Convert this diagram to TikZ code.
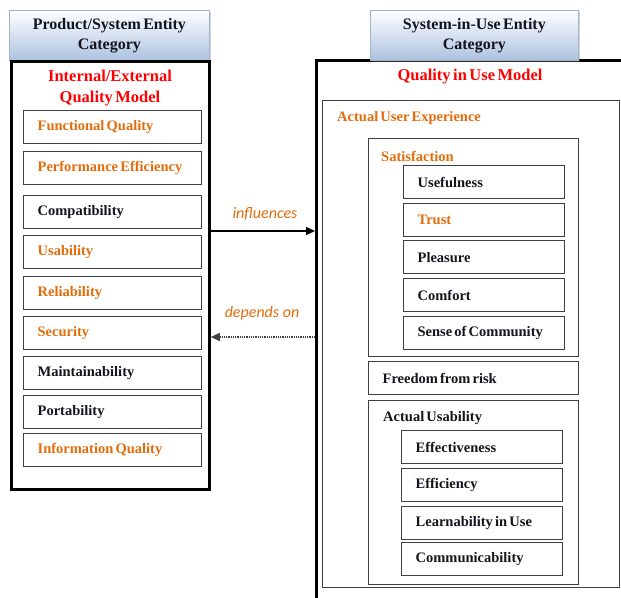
\documentclass[tikz,border=0pt]{standalone}
\usepackage{fontspec}
\setmainfont[WordSpace=0.6]{Liberation Serif}
\newfontfamily\calfont{Carlito}
\usetikzlibrary{arrows.meta,shadows}
\definecolor{qorange}{RGB}{228,108,10}
\definecolor{qred}{RGB}{255,0,0}
\definecolor{hdblue}{RGB}{172,194,224}
\definecolor{boxgray}{RGB}{64,64,64}
\definecolor{ink}{RGB}{20,20,30}
\tikzset{
  frame/.style={draw=black, line width=2.8pt, anchor=north west, inner sep=0pt},
  hdr/.style={draw=hdblue!80!gray, line width=0.8pt, top color=white, bottom color=hdblue,
    drop shadow={shadow xshift=2pt, shadow yshift=-2pt, opacity=0.35},
    anchor=north west, inner sep=0pt, align=center, text=ink,
    font=\fontsize{16}{20}\selectfont\bfseries},
  title/.style={text=qred, align=center, inner sep=0pt, font=\fontsize{16.5}{21}\selectfont\bfseries},
  grp/.style={draw=boxgray, line width=1.3pt, anchor=north west, inner sep=0pt},
  lbl/.style={anchor=west, inner sep=0pt, text=ink, font=\fontsize{14.5}{17}\selectfont\bfseries},
  item/.style={draw=boxgray, line width=1.3pt, anchor=north west, minimum height=33pt,
    inner xsep=14pt, inner ysep=0pt, text width=#1, align=flush left, text=ink,
    font=\fontsize{14.5}{17}\selectfont\bfseries},
  oitem/.style={text=qorange},
  conn/.style={line width=1.2pt, -{Triangle[length=9pt,width=8pt]}},
  arrlbl/.style={text=qorange, inner sep=0pt, font=\fontsize{16}{18}\selectfont\calfont\itshape}
}
\begin{document}
\begin{tikzpicture}[x=1pt,y=-1pt]
  \useasboundingbox (0,0) rectangle (621,597);
  \node[frame, minimum width=330pt, minimum height=560pt] (rbox) at (315,59) {};
  \node[hdr, minimum width=208pt, minimum height=50pt] (shdr) at (370,10) {System-in-Use Entity\\Category};
  \node[hdr, minimum width=200pt, minimum height=50pt] (phdr) at (9,10) {Product/System Entity\\Category};
  \node[frame, minimum width=198pt, minimum height=428pt] (lbox) at (10,60) {};

  \node[title] (iemod) at (110,88) {Internal/External\\Quality Model};
  \node[item=150pt, oitem] (func) at (23,110) {Functional Quality};
  \node[item=150pt, oitem] (perf) at (23,151) {Performance Efficiency};
  \node[item=150pt] (compat) at (23,195) {Compatibility};
  \node[item=150pt, oitem] (usab) at (23,235) {Usability};
  \node[item=150pt, oitem] (reli) at (23,276) {Reliability};
  \node[item=150pt, oitem] (secu) at (23,316) {Security};
  \node[item=150pt] (maint) at (23,356) {Maintainability};
  \node[item=150pt] (port) at (23,395) {Portability};
  \node[item=150pt, oitem] (info) at (23,433) {Information Quality};

  \node[title] (qumod) at (470,77) {Quality in Use Model};
  \node[grp, minimum width=297pt, minimum height=487pt] (aue) at (322,100) {};
  \node[lbl, text=qorange] (auelbl) at (337,118) {Actual User Experience};
  \node[grp, minimum width=210pt, minimum height=218pt] (sat) at (368,138) {};
  \node[lbl, text=qorange] (satlbl) at (381,156) {Satisfaction};
  \node[item=133pt] (usef) at (403,165) {Usefulness};
  \node[item=133pt, oitem] (trust) at (403,203) {Trust};
  \node[item=133pt] (pleas) at (403,240) {Pleasure};
  \node[item=133pt] (comf) at (403,278) {Comfort};
  \node[item=133pt] (sense) at (403,316) {Sense of Community};
  \node[item=182pt] (free) at (368,361) {Freedom from risk};
  \node[grp, minimum width=210pt, minimum height=184pt] (ausab) at (368,400) {};
  \node[lbl] (ausablbl) at (383,418) {Actual Usability};
  \node[item=133pt] (effe) at (401,430) {Effectiveness};
  \node[item=133pt] (effi) at (401,468) {Efficiency};
  \node[item=133pt] (learn) at (401,506) {Learnability in Use};
  \node[item=133pt] (commu) at (401,542) {Communicability};

  \coordinate (infl) at (0,231);
  \coordinate (dep) at (0,337);
  \draw[conn] (lbox.east |- infl) -- (rbox.west |- infl);
  \draw[conn, draw=boxgray, dash pattern=on 1pt off 0.8pt] (rbox.west |- dep) -- (lbox.east |- dep);
  \node[arrlbl] (infllbl) at (265,214) {influences};
  \node[arrlbl] (deplbl) at (262,313) {depends on};
\end{tikzpicture}
\end{document}
